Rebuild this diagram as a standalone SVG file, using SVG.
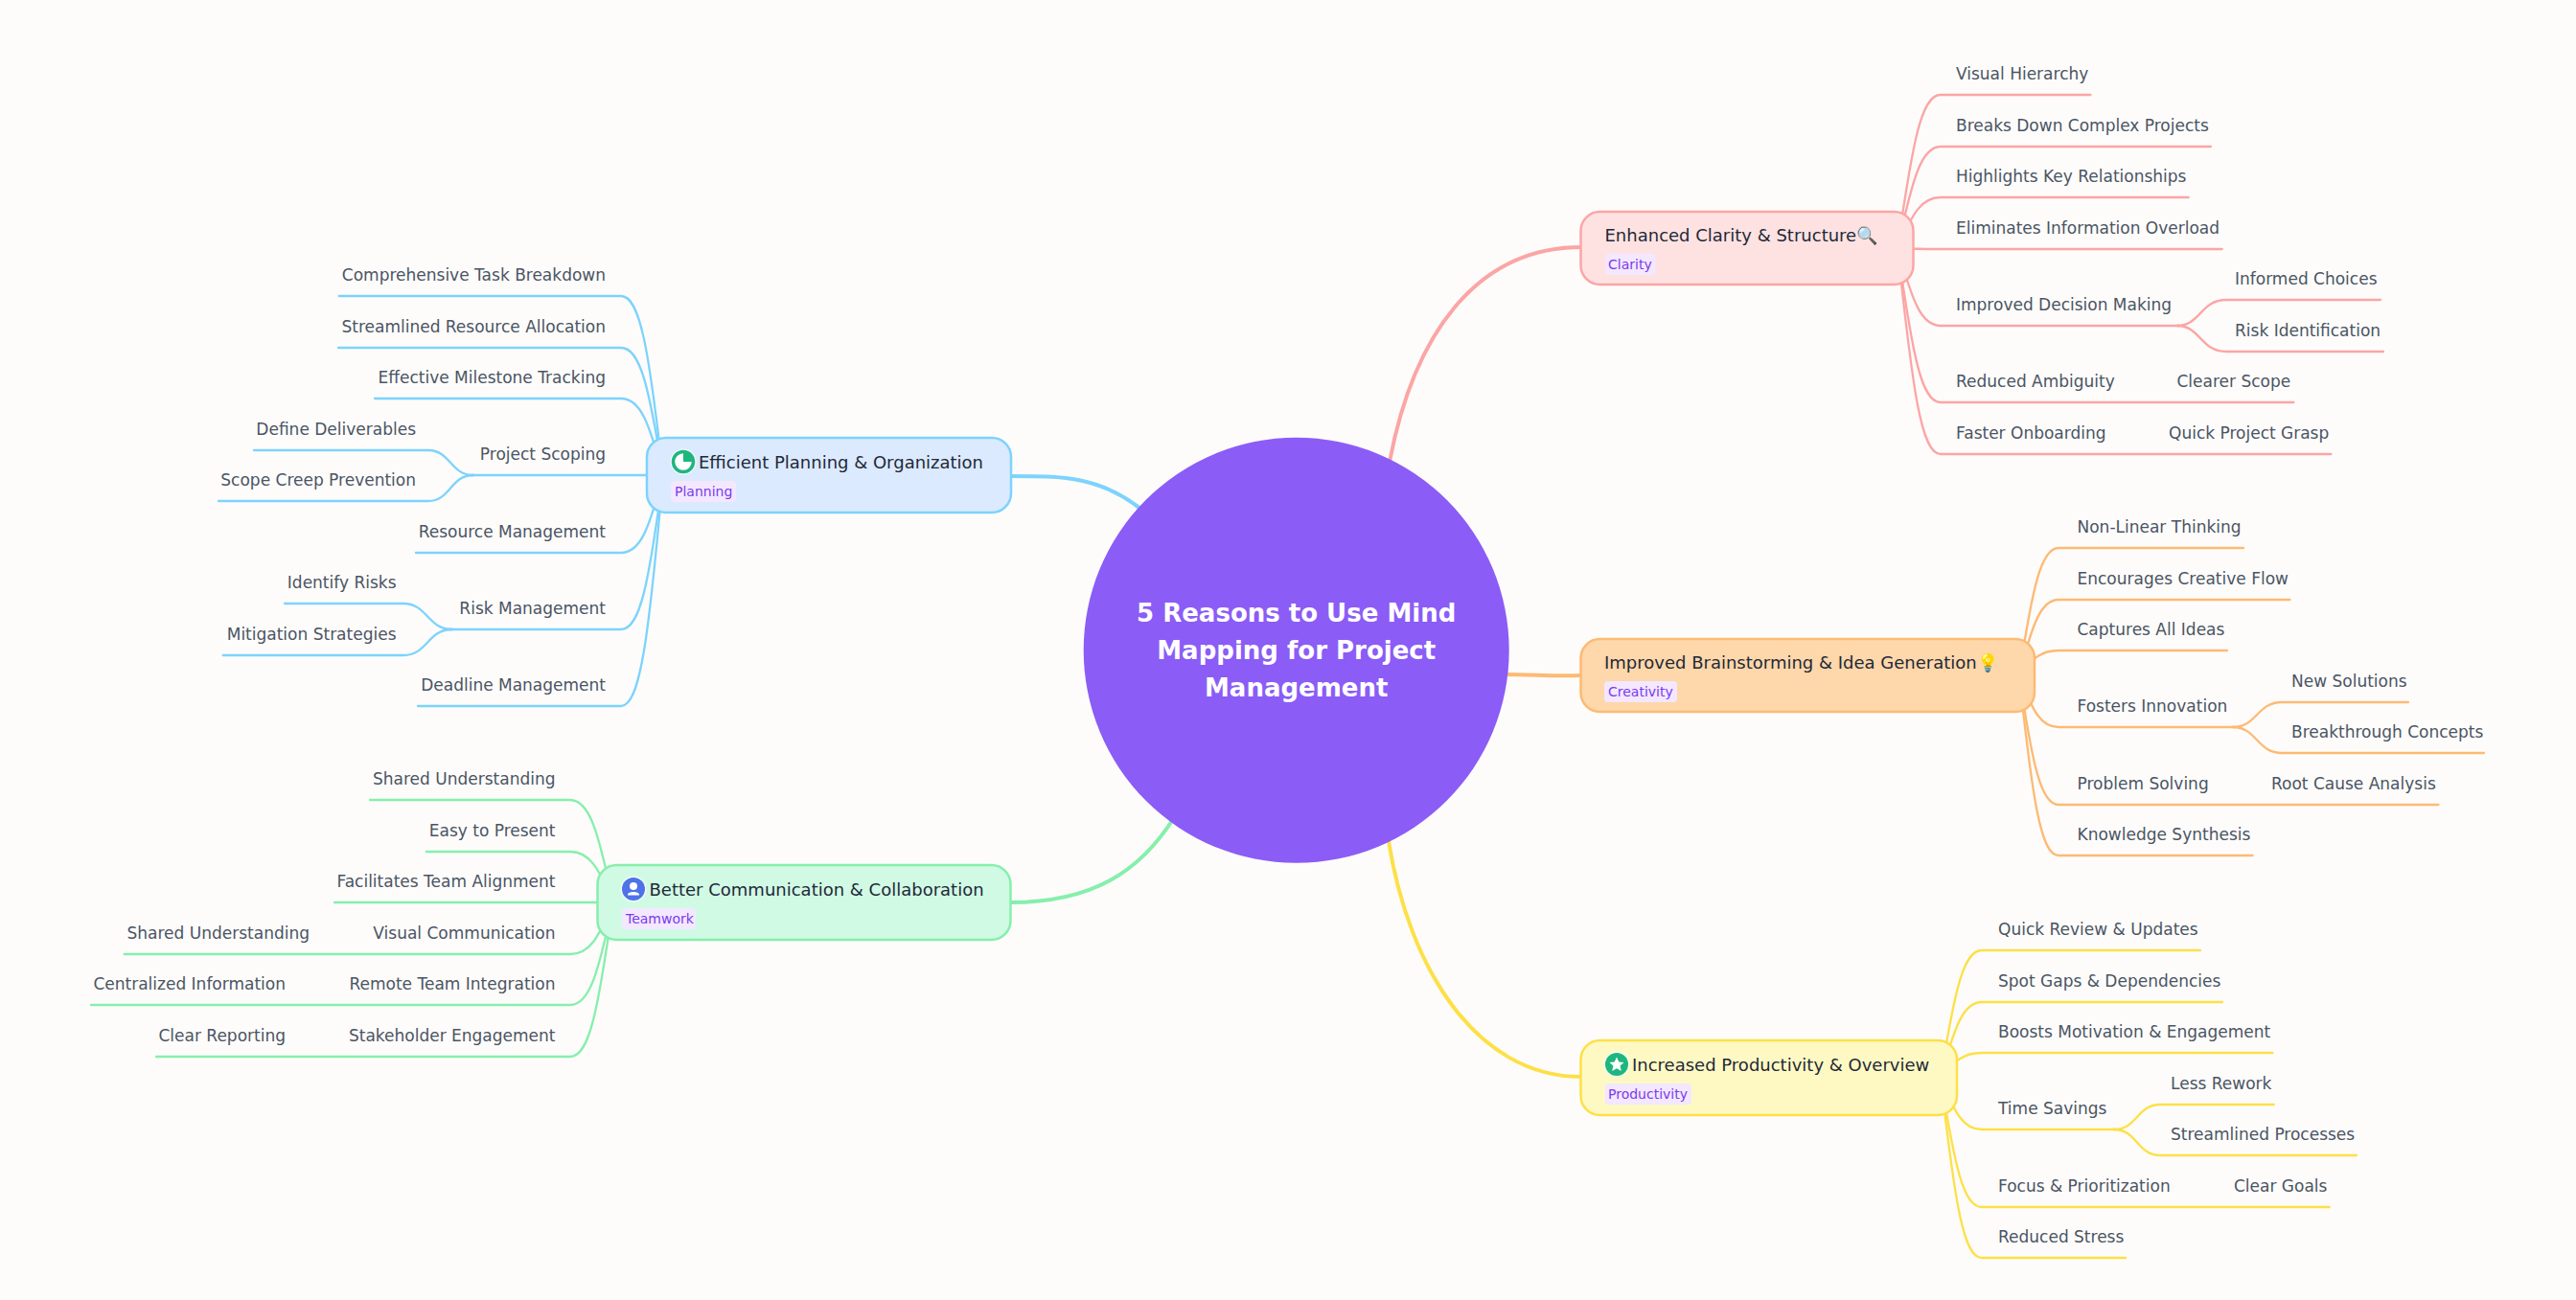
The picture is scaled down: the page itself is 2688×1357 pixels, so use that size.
<svg xmlns="http://www.w3.org/2000/svg" width="2688" height="1357" viewBox="0 0 2688 1357">
<style>
text{font-family:"DejaVu Sans",sans-serif}
.c{font-size:17px;fill:#4b5563}
.e{text-anchor:end}
.t{font-size:18px;fill:#1f2937}
.g{font-size:14px;fill:#7c3aed}
.gb{fill:#f3e8ff}
.l{fill:none;stroke-width:2.300;stroke-linecap:round}
.m{fill:none;stroke-width:4}
.n{stroke-width:2.500}
.r{stroke:#fca5a5}.o{stroke:#fdba74}.y{stroke:#fde047}.b{stroke:#7dd3fc}.v{stroke:#86efac}
.rt{font-size:26px;font-weight:700;fill:#fff;text-anchor:middle}
</style>
<rect width="2688" height="1357" fill="#fdfcfb"/>
<g id="connectors">
<path class="m r" d="M1450 482C1475 350 1540 258 1650 258"/>
<path class="m o" d="M1570 704C1600 704 1620 706 1650 705"/>
<path class="m y" d="M1449 878C1470 1010 1540 1124 1650 1124"/>
<path class="m b" d="M1054 497C1110 497 1150 497 1195 535"/>
<path class="m v" d="M1054 942C1140 942 1190 910 1226 852"/>
<g class="r">
<path class="l" d="M1980 259C1996 147 2005 99 2025 99H2181.5"/>
<path class="l" d="M1980 259C1996 185 2005 153 2025 153H2307"/>
<path class="l" d="M1980 259C1996 222 2005 206 2025 206H2283.7"/>
<path class="l" d="M1980 259C1996 260 2005 260 2025 260H2318.7"/>
<path class="l" d="M1980 259C1996 316 2005 340 2025 340H2274"/>
<path class="l" d="M1980 259C1996 372 2005 420 2025 420H2393.4"/>
<path class="l" d="M1980 259C1996 409 2005 474 2025 474H2432.4"/>
<path class="l" d="M2272 340C2296 340 2296 313 2323 313H2484"/>
<path class="l" d="M2272 340C2296 340 2296 367 2323 367H2487"/>
</g>
<g class="o">
<path class="l" d="M2107 705C2121 612 2130 572 2148 572H2341"/>
<path class="l" d="M2107 705C2121 650 2130 626 2148 626H2389.5"/>
<path class="l" d="M2107 705C2121 687 2130 679 2148 679H2324"/>
<path class="l" d="M2107 705C2121 743 2130 759 2148 759H2332"/>
<path class="l" d="M2107 705C2121 800 2130 840 2148 840H2544.5"/>
<path class="l" d="M2107 705C2121 837 2130 893 2148 893H2350.6"/>
<path class="l" d="M2330 759C2355 759 2355 733 2381 733H2513"/>
<path class="l" d="M2330 759C2355 759 2355 786 2381 786H2592"/>
</g>
<g class="y">
<path class="l" d="M2025 1125C2040 1032 2049 992 2068 992H2296"/>
<path class="l" d="M2025 1125C2040 1070 2049 1046 2068 1046H2319"/>
<path class="l" d="M2025 1125C2040 1107 2049 1099 2068 1099H2371.5"/>
<path class="l" d="M2025 1125C2040 1163 2049 1179 2068 1179H2210"/>
<path class="l" d="M2025 1125C2040 1219 2049 1260 2068 1260H2430.7"/>
<path class="l" d="M2025 1125C2040 1257 2049 1313 2068 1313H2218"/>
<path class="l" d="M2206 1179C2230 1179 2230 1153 2254 1153H2372.7"/>
<path class="l" d="M2206 1179C2230 1179 2230 1206 2254 1206H2459"/>
</g>
<g class="b">
<path class="l" d="M692 496C677 365 668 309 648 309H353.8"/>
<path class="l" d="M692 496C677 403 668 363 648 363H353"/>
<path class="l" d="M692 496C677 440 668 416 648 416H391"/>
<path class="l" d="M692 496H490"/>
<path class="l" d="M692 496C677 553 668 577 648 577H434"/>
<path class="l" d="M692 496C677 609 668 657 648 657H468"/>
<path class="l" d="M692 496C677 665 668 737 648 737H436"/>
<path class="l" d="M494 496C470 496 470 470 447 470H265"/>
<path class="l" d="M494 496C470 496 470 523 447 523H228"/>
<path class="l" d="M472 657C446 657 446 630 421 630H297"/>
<path class="l" d="M472 657C446 657 446 684 421 684H232.7"/>
</g>
<g class="v">
<path class="l" d="M640 942C624 867 615 835 595 835H386"/>
<path class="l" d="M640 942C624 905 615 889 595 889H444.8"/>
<path class="l" d="M640 942H349"/>
<path class="l" d="M640 942C624 980 615 996 595 996H129.7"/>
<path class="l" d="M640 942C624 1017 615 1049 595 1049H95"/>
<path class="l" d="M640 942C624 1055 615 1103 595 1103H163"/>
</g>
</g>
<g id="root">
<circle cx="1352.7" cy="678.8" r="222" fill="#8b5cf6"/>
<text class="rt" x="1352.7" y="649">5 Reasons to Use Mind</text>
<text class="rt" x="1352.7" y="688">Mapping for Project</text>
<text class="rt" x="1352.7" y="727">Management</text>
</g>
<g id="clarity">
<rect class="n r" x="1649.5" y="221" width="347" height="76" rx="20" fill="#fee2e2"/>
<text class="t" x="1674.500" y="252">Enhanced Clarity &amp; Structure🔍</text>
<rect class="gb" x="1675" y="265" width="52.500" height="22" rx="4"/>
<text class="g" x="1678" y="281">Clarity</text>
</g>
<g id="creativity">
<rect class="n o" x="1649.500" y="667" width="473.500" height="76" rx="20" fill="#fed7aa"/>
<text class="t" x="1674" y="698">Improved Brainstorming &amp; Idea Generation💡</text>
<rect class="gb" x="1674" y="711" width="76" height="22" rx="4"/>
<text class="g" x="1678" y="727">Creativity</text>
</g>
<g id="productivity">
<rect class="n y" x="1649.500" y="1086" width="392.500" height="78" rx="20" fill="#fef9c3"/>
<circle cx="1687" cy="1111" r="13.500" fill="#f0fdf4"/>
<circle cx="1687" cy="1111" r="12" fill="#1fb67e"/>
<polygon points="1687,1103.500 1689.300,1108.600 1694.500,1109 1690.600,1112.600 1691.800,1118 1687,1115.200 1682.200,1118 1683.400,1112.600 1679.500,1109 1684.700,1108.600" fill="#fff"/>
<text class="t" x="1703" y="1118">Increased Productivity &amp; Overview</text>
<rect class="gb" x="1674.500" y="1131" width="90.500" height="22" rx="4"/>
<text class="g" x="1678" y="1147">Productivity</text>
</g>
<g id="planning">
<rect class="n b" x="675" y="457" width="380" height="78" rx="20" fill="#dbeafe"/>
<circle cx="713" cy="482" r="13.500" fill="#f0f9ff"/>
<circle cx="713" cy="482" r="10.500" fill="#fff" stroke="#1fb67e" stroke-width="3.500"/>
<path d="M713 482V472.500A9.500 9.500 0 0 1 722.500 482Z" fill="#1fb67e"/>
<text class="t" x="729" y="489">Efficient Planning &amp; Organization</text>
<rect class="gb" x="700" y="502" width="68" height="22" rx="4"/>
<text class="g" x="704" y="518">Planning</text>
</g>
<g id="teamwork">
<rect class="n v" x="623.500" y="903" width="431" height="78" rx="20" fill="#d1fae5"/>
<circle cx="661" cy="928" r="13.500" fill="#f0fdf4"/>
<circle cx="661" cy="928" r="12" fill="#4f72e8"/>
<circle cx="661" cy="925" r="4" fill="#fff"/>
<path d="M655 934C655 930 667 930 667 934V934.500H655Z" fill="#fff"/>
<text class="t" x="677.500" y="935">Better Communication &amp; Collaboration</text>
<rect class="gb" x="649" y="948" width="77" height="22" rx="4"/>
<text class="g" x="653" y="964">Teamwork</text>
</g>
<g id="clarity-children">
<text class="c" x="2041" y="83">Visual Hierarchy</text>
<text class="c" x="2041" y="137">Breaks Down Complex Projects</text>
<text class="c" x="2041" y="190">Highlights Key Relationships</text>
<text class="c" x="2041" y="244">Eliminates Information Overload</text>
<text class="c" x="2041" y="324">Improved Decision Making</text>
<text class="c" x="2332" y="297">Informed Choices</text>
<text class="c" x="2332" y="351">Risk Identification</text>
<text class="c" x="2041" y="404">Reduced Ambiguity</text>
<text class="c" x="2271.500" y="404">Clearer Scope</text>
<text class="c" x="2041" y="458">Faster Onboarding</text>
<text class="c" x="2263" y="458">Quick Project Grasp</text>
</g>
<g id="creativity-children">
<text class="c" x="2167.500" y="556">Non-Linear Thinking</text>
<text class="c" x="2167.500" y="610">Encourages Creative Flow</text>
<text class="c" x="2167.500" y="663">Captures All Ideas</text>
<text class="c" x="2167.500" y="743">Fosters Innovation</text>
<text class="c" x="2391" y="717">New Solutions</text>
<text class="c" x="2391" y="770">Breakthrough Concepts</text>
<text class="c" x="2167.500" y="824">Problem Solving</text>
<text class="c" x="2370" y="824">Root Cause Analysis</text>
<text class="c" x="2167.500" y="877">Knowledge Synthesis</text>
</g>
<g id="productivity-children">
<text class="c" x="2085" y="976">Quick Review &amp; Updates</text>
<text class="c" x="2085" y="1030">Spot Gaps &amp; Dependencies</text>
<text class="c" x="2085" y="1083">Boosts Motivation &amp; Engagement</text>
<text class="c" x="2085" y="1163">Time Savings</text>
<text class="c" x="2265" y="1137">Less Rework</text>
<text class="c" x="2265" y="1190">Streamlined Processes</text>
<text class="c" x="2085" y="1244">Focus &amp; Prioritization</text>
<text class="c" x="2331" y="1244">Clear Goals</text>
<text class="c" x="2085" y="1297">Reduced Stress</text>
</g>
<g id="planning-children">
<text class="c e" x="632" y="293">Comprehensive Task Breakdown</text>
<text class="c e" x="632" y="347">Streamlined Resource Allocation</text>
<text class="c e" x="632" y="400">Effective Milestone Tracking</text>
<text class="c e" x="632" y="480">Project Scoping</text>
<text class="c e" x="434" y="454">Define Deliverables</text>
<text class="c e" x="434" y="507">Scope Creep Prevention</text>
<text class="c e" x="632" y="561">Resource Management</text>
<text class="c e" x="632" y="641">Risk Management</text>
<text class="c e" x="413.500" y="614">Identify Risks</text>
<text class="c e" x="413.500" y="668">Mitigation Strategies</text>
<text class="c e" x="632" y="721">Deadline Management</text>
</g>
<g id="teamwork-children">
<text class="c e" x="579.500" y="819">Shared Understanding</text>
<text class="c e" x="579.500" y="873">Easy to Present</text>
<text class="c e" x="579.500" y="926">Facilitates Team Alignment</text>
<text class="c e" x="579.500" y="980">Visual Communication</text>
<text class="c e" x="323" y="980">Shared Understanding</text>
<text class="c e" x="579.500" y="1033">Remote Team Integration</text>
<text class="c e" x="298" y="1033">Centralized Information</text>
<text class="c e" x="579.500" y="1087">Stakeholder Engagement</text>
<text class="c e" x="298" y="1087">Clear Reporting</text>
</g>
</svg>
